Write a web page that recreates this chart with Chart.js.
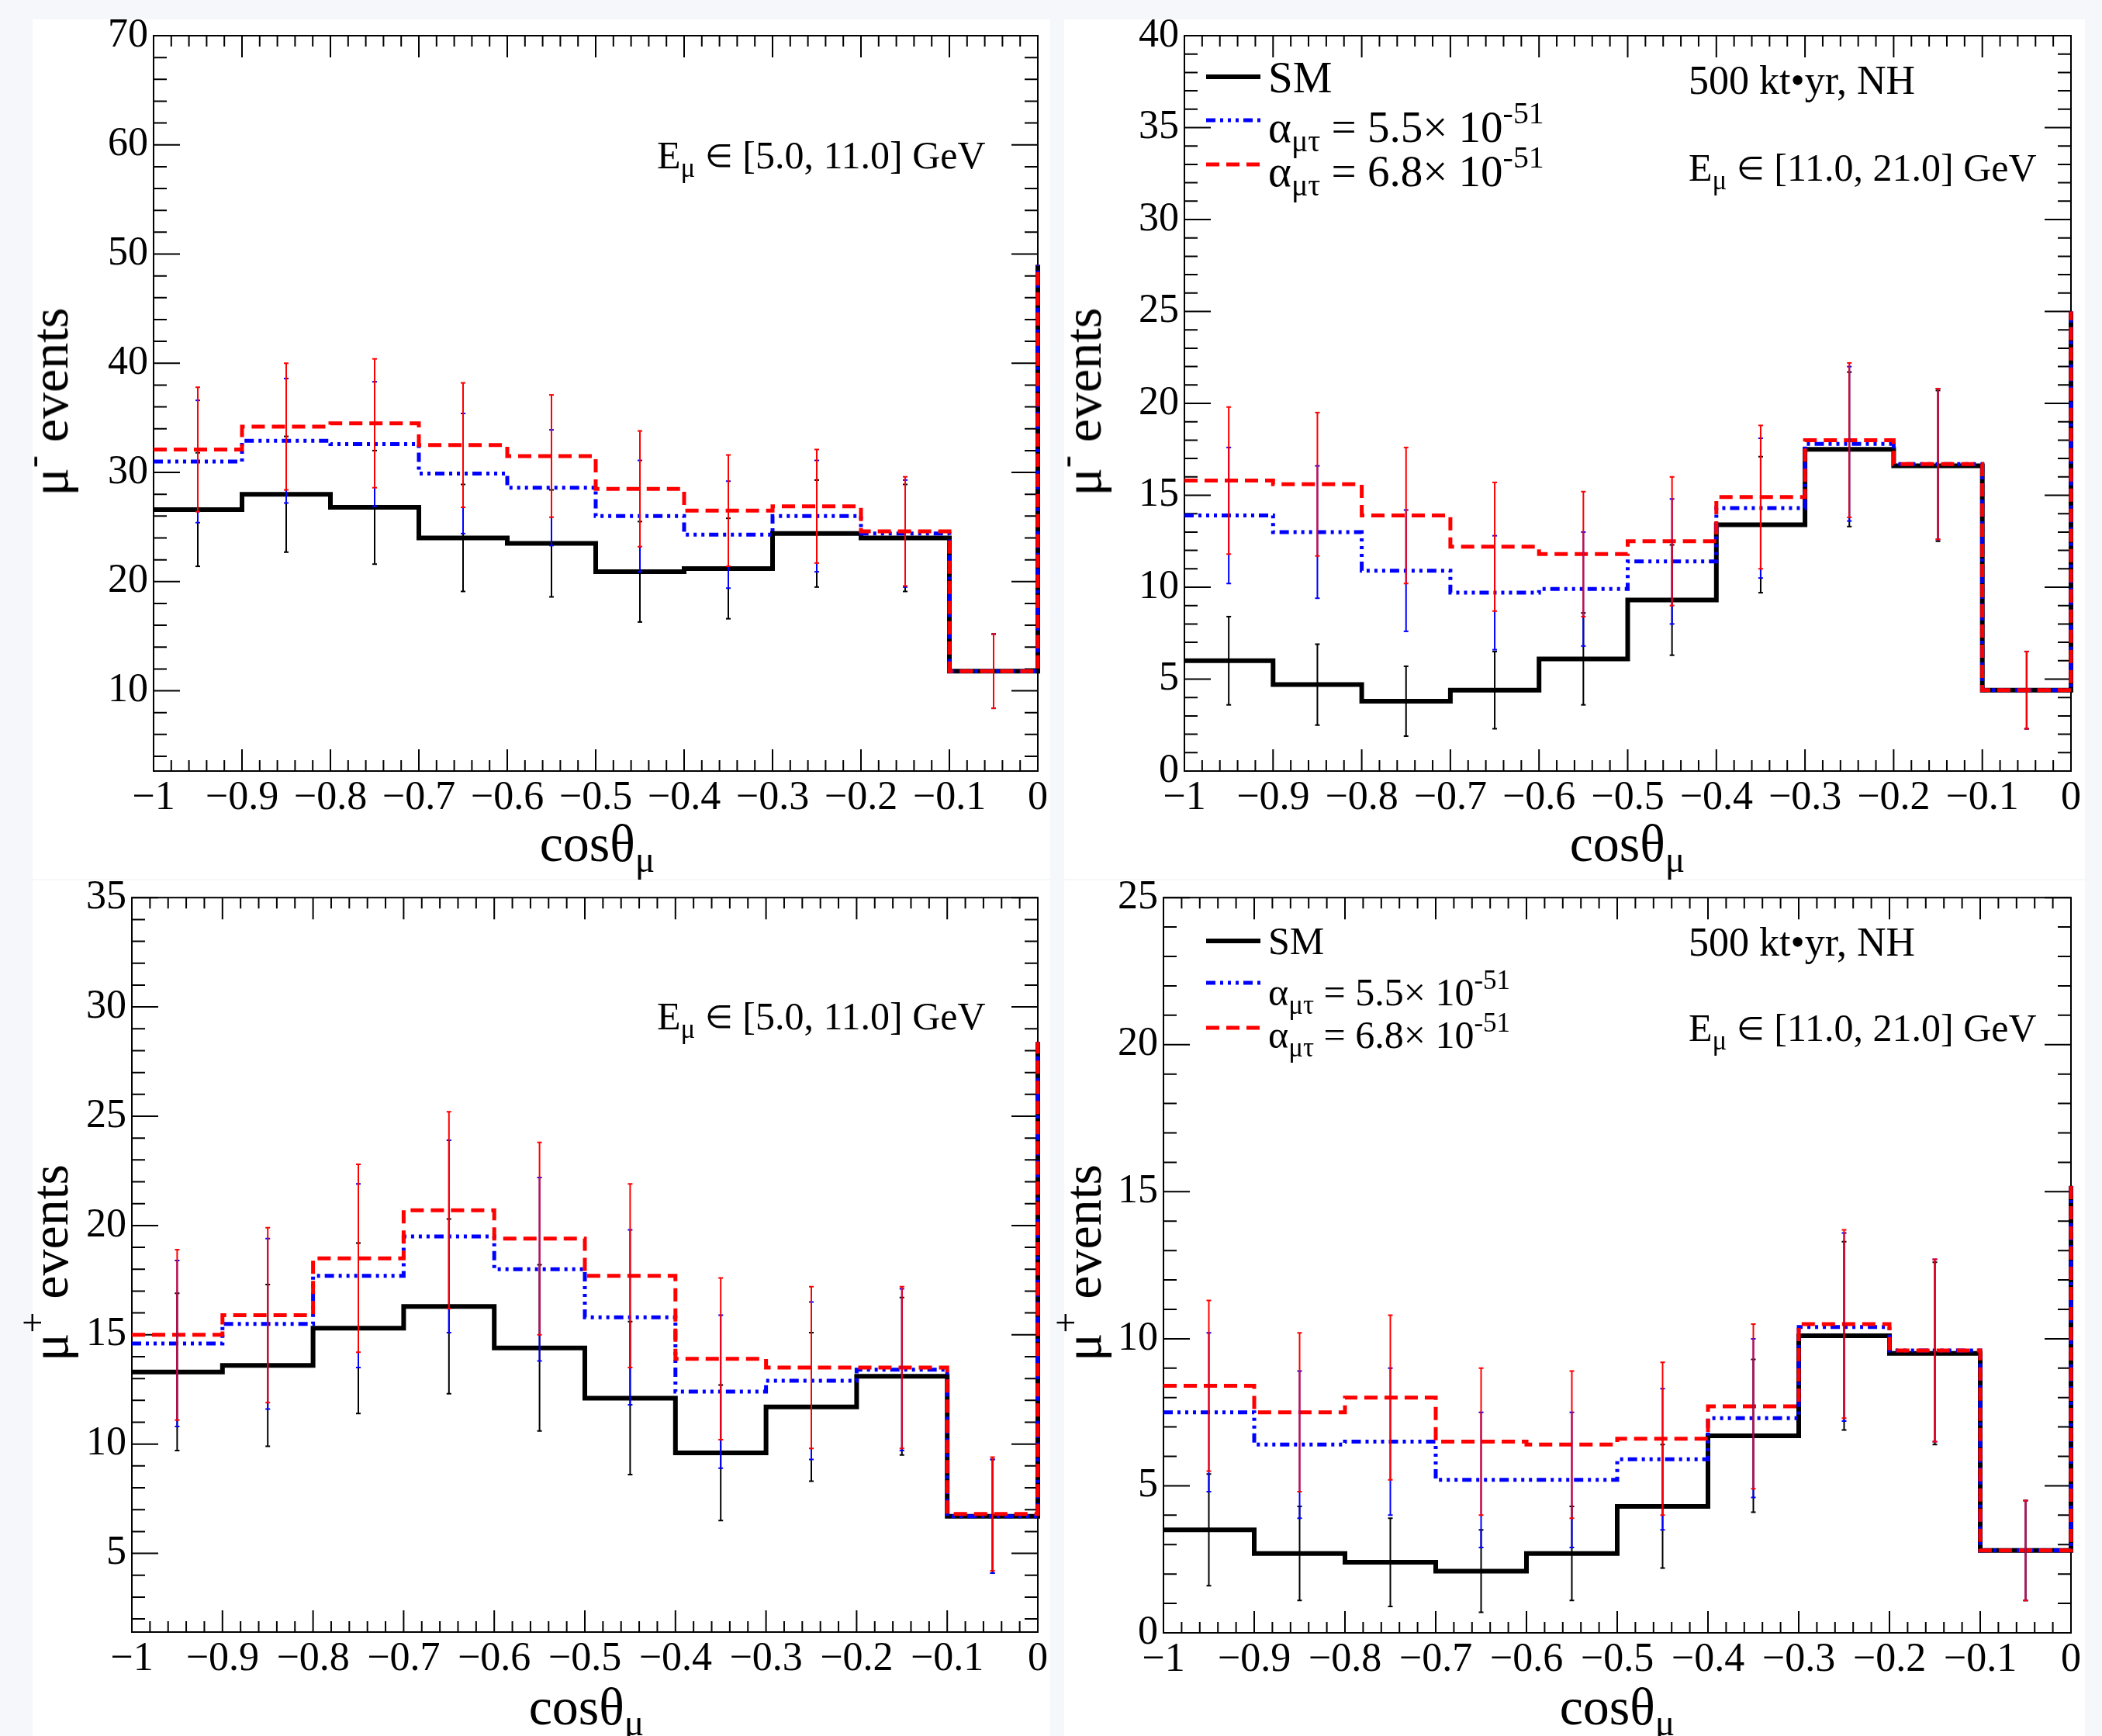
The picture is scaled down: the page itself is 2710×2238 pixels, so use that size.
<!DOCTYPE html>
<html>
<head>
<meta charset="utf-8">
<script src="https://cdn.jsdelivr.net/npm/chart.js@4.4.1/dist/chart.umd.min.js"></script>
<style>
  html, body { margin: 0; padding: 0; background: #f6f7fb; }
  #page { position: relative; width: 2710px; height: 2238px; overflow: hidden;
          font-family: 'Liberation Serif', 'Times New Roman', serif; color: #000; }
  .pane { position: absolute; background: #fff; }
  canvas { position: absolute; }
  .txt { position: absolute; line-height: 1; white-space: nowrap; }
  .sub { font-size: 0.7em; position: relative; top: 0.3em; }
  .sup { font-size: 0.7em; position: relative; top: -0.6em; }
  .in { font-size: 0.82em; position: relative; top: -0.04em; }
  .xt { position: absolute; line-height: 1; white-space: nowrap; font-size: 68px; transform: translateX(-50%); }
  .yt { position: absolute; line-height: 1; white-space: nowrap; font-size: 68px; transform: translate(-50%, -50%) rotate(-90deg); }
  .lg { position: absolute; }
</style>
</head>
<body>
<div id="page">
  <div class="pane" style="left:42px;top:25px;width:1312px;height:1108px"></div>
  <div class="pane" style="left:1372px;top:25px;width:1316px;height:1108px"></div>
  <div class="pane" style="left:42px;top:1135px;width:1312px;height:1103px"></div>
  <div class="pane" style="left:1372px;top:1135px;width:1316px;height:1103px"></div>

  <canvas id="cTL" width="1355" height="1119" style="left:0;top:0"></canvas>
  <canvas id="cTR" width="1355" height="1119" style="left:1355px;top:0"></canvas>
  <canvas id="cBL" width="1355" height="1119" style="left:0;top:1119px"></canvas>
  <canvas id="cBR" width="1355" height="1119" style="left:1355px;top:1119px"></canvas>

  <!-- axis titles -->
  <div class="yt" style="left:64px;top:518px">μ<span class="sup">-</span> events</div>
  <div class="yt" style="left:1396px;top:518px">μ<span class="sup">-</span> events</div>
  <div class="yt" style="left:64px;top:1628px">μ<span class="sup">+</span> events</div>
  <div class="yt" style="left:1396px;top:1628px">μ<span class="sup">+</span> events</div>
  <div class="xt" style="left:770px;top:1053px">cosθ<span class="sub">μ</span></div>
  <div class="xt" style="left:2098px;top:1053px">cosθ<span class="sub">μ</span></div>
  <div class="xt" style="left:756px;top:2166px">cosθ<span class="sub">μ</span></div>
  <div class="xt" style="left:2085px;top:2166px">cosθ<span class="sub">μ</span></div>

  <!-- energy / exposure labels -->
  <div class="txt" style="left:847px;top:175px;font-size:50px">E<span class="sub">μ</span> <span class="in">∈</span> [5.0, 11.0] GeV</div>
  <div class="txt" style="left:847px;top:1285px;font-size:50px">E<span class="sub">μ</span> <span class="in">∈</span> [5.0, 11.0] GeV</div>
  <div class="txt" style="left:2177px;top:78px;font-size:52px">500 kt•yr, NH</div>
  <div class="txt" style="left:2177px;top:191px;font-size:50px">E<span class="sub">μ</span> <span class="in">∈</span> [11.0, 21.0] GeV</div>
  <div class="txt" style="left:2177px;top:1189px;font-size:52px">500 kt•yr, NH</div>
  <div class="txt" style="left:2177px;top:1300px;font-size:50px">E<span class="sub">μ</span> <span class="in">∈</span> [11.0, 21.0] GeV</div>

  <!-- legend, top right -->
  <svg class="lg" style="left:1555px;top:93px" width="70" height="12"><line x1="0" y1="6" x2="70" y2="6" stroke="#000" stroke-width="6"/></svg>
  <svg class="lg" style="left:1555px;top:149px" width="70" height="12"><line x1="0" y1="6" x2="70" y2="6" stroke="#0000ff" stroke-width="5" stroke-dasharray="12 6 4 6 4 6 4 6"/></svg>
  <svg class="lg" style="left:1555px;top:206px" width="70" height="12"><line x1="0" y1="6" x2="70" y2="6" stroke="#ff0000" stroke-width="5" stroke-dasharray="17 9"/></svg>
  <div class="txt" style="left:1635px;top:71px;font-size:57px">SM</div>
  <div class="txt" style="left:1635px;top:135px;font-size:57px">α<span class="sub">μτ</span> = 5.5× 10<span class="sup">-51</span></div>
  <div class="txt" style="left:1635px;top:192px;font-size:57px">α<span class="sub">μτ</span> = 6.8× 10<span class="sup">-51</span></div>

  <!-- legend, bottom right -->
  <svg class="lg" style="left:1555px;top:1207px" width="70" height="12"><line x1="0" y1="6" x2="70" y2="6" stroke="#000" stroke-width="6"/></svg>
  <svg class="lg" style="left:1555px;top:1261px" width="70" height="12"><line x1="0" y1="6" x2="70" y2="6" stroke="#0000ff" stroke-width="5" stroke-dasharray="12 6 4 6 4 6 4 6"/></svg>
  <svg class="lg" style="left:1555px;top:1319px" width="70" height="12"><line x1="0" y1="6" x2="70" y2="6" stroke="#ff0000" stroke-width="5" stroke-dasharray="17 9"/></svg>
  <div class="txt" style="left:1635px;top:1188px;font-size:50px">SM</div>
  <div class="txt" style="left:1635px;top:1254px;font-size:50px">α<span class="sub">μτ</span> = 5.5× 10<span class="sup">-51</span></div>
  <div class="txt" style="left:1635px;top:1309px;font-size:50px">α<span class="sub">μτ</span> = 6.8× 10<span class="sup">-51</span></div>
</div>

<script>
// bins in cos(theta_mu)
const binEdges = [-1, -0.9, -0.8, -0.7, -0.6, -0.5, -0.4, -0.3, -0.2, -0.1, 0];
const binCenters = [-0.95, -0.85, -0.75, -0.65, -0.55, -0.45, -0.35, -0.25, -0.15, -0.05];
const xTicks = [-1, -0.9, -0.8, -0.7, -0.6, -0.5, -0.4, -0.3, -0.2, -0.1, 0];

// mu- , E in [5, 11] GeV
const tlSM = [26.6, 28.0, 26.8, 24.0, 23.5, 20.9, 21.2, 24.4, 24.0, 11.8];
const tlA55 = [31.0, 32.9, 32.6, 29.9, 28.6, 26.0, 24.3, 26.0, 24.4, 11.8];
const tlA68 = [32.1, 34.2, 34.5, 32.5, 31.5, 28.5, 26.5, 26.9, 24.6, 11.8];
const tlErrSM = [5.2, 5.3, 5.2, 4.9, 4.9, 4.6, 4.6, 4.9, 4.9, 3.4];
const tlErrA55 = [5.6, 5.7, 5.7, 5.5, 5.3, 5.1, 4.9, 5.1, 4.9, 3.4];
const tlErrA68 = [5.7, 5.8, 5.9, 5.7, 5.6, 5.3, 5.1, 5.2, 5.0, 3.4];
const tlOverflow = 49.0;
const tlYTicks = [10, 20, 30, 40, 50, 60, 70];

// mu- , E in [11, 21] GeV
const trSM = [6.0, 4.7, 3.8, 4.4, 6.1, 9.3, 13.4, 17.5, 16.6, 4.4];
const trA55 = [13.9, 13.0, 10.9, 9.7, 9.9, 11.4, 14.3, 17.8, 16.7, 4.4];
const trA68 = [15.8, 15.6, 13.9, 12.2, 11.8, 12.5, 14.9, 18.0, 16.7, 4.4];
const trErrSM = [2.4, 2.2, 1.9, 2.1, 2.5, 3.0, 3.7, 4.2, 4.1, 2.1];
const trErrA55 = [3.7, 3.6, 3.3, 3.1, 3.1, 3.4, 3.8, 4.2, 4.1, 2.1];
const trErrA68 = [4.0, 3.9, 3.7, 3.5, 3.4, 3.5, 3.9, 4.2, 4.1, 2.1];
const trOverflow = 25.0;
const trYTicks = [0, 5, 10, 15, 20, 25, 30, 35, 40];

// mu+ , E in [5, 11] GeV
const blSM = [13.3, 13.6, 15.3, 16.3, 14.4, 12.1, 9.6, 11.7, 13.1, 6.7];
const blA55 = [14.6, 15.5, 17.7, 19.5, 18.0, 15.8, 12.4, 12.9, 13.4, 6.7];
const blA68 = [15.0, 15.9, 18.5, 20.7, 19.4, 17.7, 13.9, 13.5, 13.5, 6.8];
const blErrSM = [3.6, 3.7, 3.9, 4.0, 3.8, 3.5, 3.1, 3.4, 3.6, 2.6];
const blErrA55 = [3.8, 3.9, 4.2, 4.4, 4.2, 4.0, 3.5, 3.6, 3.7, 2.6];
const blErrA68 = [3.9, 4.0, 4.3, 4.5, 4.4, 4.2, 3.7, 3.7, 3.7, 2.6];
const blOverflow = 28.4;
const blYTicks = [5, 10, 15, 20, 25, 30, 35];

// mu+ , E in [11, 21] GeV
const brSM = [3.5, 2.7, 2.4, 2.1, 2.7, 4.3, 6.7, 10.1, 9.5, 2.8];
const brA55 = [7.5, 6.4, 6.5, 5.2, 5.2, 5.9, 7.3, 10.4, 9.6, 2.8];
const brA68 = [8.4, 7.5, 8.0, 6.5, 6.4, 6.6, 7.7, 10.5, 9.6, 2.8];
const brErrSM = [1.9, 1.6, 1.5, 1.4, 1.6, 2.1, 2.6, 3.2, 3.1, 1.7];
const brErrA55 = [2.7, 2.5, 2.5, 2.3, 2.3, 2.4, 2.7, 3.2, 3.1, 1.7];
const brErrA68 = [2.9, 2.7, 2.8, 2.5, 2.5, 2.6, 2.8, 3.2, 3.1, 1.7];
const brOverflow = 15.2;
const brYTicks = [0, 5, 10, 15, 20, 25];

const colSM = '#000000';
const colA55 = '#0000ff';
const colA68 = '#ff0000';
const dashA55 = [12, 6, 4, 6, 4, 6, 4, 6];
const dashA68 = [17, 9];

Chart.defaults.font.family = "'Liberation Serif', 'Times New Roman', serif";
Chart.defaults.color = '#000';

// ROOT style frame: box plus inward ticks on all four sides
const rootFrame = {
    id: 'rootFrame',
    beforeDatasetsDraw(chart, args, opts) {
        const ctx = chart.ctx;
        const a = chart.chartArea;
        const x = chart.scales.x;
        const y = chart.scales.y;
        ctx.save();
        ctx.strokeStyle = '#000';
        ctx.lineWidth = 2;
        ctx.beginPath();
        const nx = Math.round((x.max - x.min) / opts.xMinor);
        for (let i = 0; i <= nx; i++) {
            const px = x.getPixelForValue(x.min + i * opts.xMinor);
            const len = i % opts.xPer === 0 ? 28 : 14;
            ctx.moveTo(px, a.bottom); ctx.lineTo(px, a.bottom - len);
            ctx.moveTo(px, a.top); ctx.lineTo(px, a.top + len);
        }
        let v = Math.ceil(y.min / opts.yMinor - 1e-6) * opts.yMinor;
        for (; v <= y.max + 1e-6; v += opts.yMinor) {
            const py = y.getPixelForValue(v);
            const r = v / opts.yMajor;
            const len = Math.abs(r - Math.round(r)) < 1e-6 ? 34 : 17;
            ctx.moveTo(a.left, py); ctx.lineTo(a.left + len, py);
            ctx.moveTo(a.right, py); ctx.lineTo(a.right - len, py);
        }
        ctx.stroke();
        ctx.strokeRect(a.left, a.top, a.right - a.left, a.bottom - a.top);
        ctx.restore();
    }
};

function histPoints(values, overflow) {
    return binEdges.map((x, i) => ({ x: x, y: i < values.length ? values[i] : overflow }));
}

function errPoints(values, errs) {
    const pts = [];
    binCenters.forEach((c, i) => {
        pts.push({ x: c, y: values[i] - errs[i] });
        pts.push({ x: c, y: values[i] + errs[i] });
        pts.push({ x: c, y: null });
    });
    return pts;
}

function histDataset(values, overflow, color, dash, width, order) {
    return {
        data: histPoints(values, overflow),
        stepped: 'before',
        borderColor: color,
        borderWidth: width,
        borderDash: dash,
        pointRadius: 0,
        fill: false,
        clip: false,
        order: order
    };
}

function errDataset(values, errs, color, order) {
    return {
        data: errPoints(values, errs),
        borderColor: color,
        borderWidth: 2,
        spanGaps: false,
        pointStyle: 'line',
        pointRadius: 3,
        pointHoverRadius: 3,
        pointBorderColor: color,
        pointBorderWidth: 2,
        fill: false,
        order: order
    };
}

function tickLabel(v) {
    return v === 0 ? '0' : '\u2212' + Math.abs(v);
}

function dibujarPanel(id, p) {
    const canvas = document.getElementById(id);
    const W = canvas.width, H = canvas.height;
    new Chart(canvas, {
        type: 'line',
        data: {
            datasets: [
                errDataset(p.a68, p.errA68, colA68, 1),
                errDataset(p.a55, p.errA55, colA55, 2),
                errDataset(p.sm, p.errSM, colSM, 3),
                histDataset(p.a68, p.over, colA68, dashA68, 5, 4),
                histDataset(p.a55, p.over, colA55, dashA55, 5, 5),
                histDataset(p.sm, p.over, colSM, [], 6, 6)
            ]
        },
        options: {
            responsive: false,
            animation: false,
            devicePixelRatio: 1,
            events: [],
            layout: { padding: { left: 0, right: W - p.area.right, top: p.area.top, bottom: 0 } },
            plugins: {
                legend: { display: false },
                tooltip: { enabled: false },
                rootFrame: { xMinor: 0.02, xPer: 5, yMinor: p.yMinor, yMajor: p.yMajor }
            },
            scales: {
                x: {
                    type: 'linear', min: -1, max: 0,
                    grid: { display: false, drawTicks: false },
                    border: { display: false },
                    afterBuildTicks: s => { s.ticks = xTicks.map(v => ({ value: v })); },
                    afterFit: s => { s.height = H - p.area.bottom; },
                    ticks: { autoSkip: false, maxRotation: 0, padding: 4, color: '#000',
                             font: { size: 52 }, callback: v => tickLabel(v) }
                },
                y: {
                    type: 'linear', min: p.yMin, max: p.yMax,
                    grid: { display: false, drawTicks: false },
                    border: { display: false },
                    afterBuildTicks: s => { s.ticks = p.yTicks.map(v => ({ value: v })); },
                    afterFit: s => { s.width = p.area.left; },
                    ticks: { padding: 7, color: '#000', font: { size: 52 }, callback: v => String(v) }
                }
            }
        },
        plugins: [rootFrame]
    });
}

dibujarPanel('cTL', {
    sm: tlSM, a55: tlA55, a68: tlA68, errSM: tlErrSM, errA55: tlErrA55, errA68: tlErrA68,
    over: tlOverflow, yMin: 2.65, yMax: 70, yTicks: tlYTicks, yMinor: 2, yMajor: 10,
    area: { left: 198, right: 1341, top: 46, bottom: 994 }
});
dibujarPanel('cTR', {
    sm: trSM, a55: trA55, a68: trA68, errSM: trErrSM, errA55: trErrA55, errA68: trErrA68,
    over: trOverflow, yMin: 0, yMax: 40, yTicks: trYTicks, yMinor: 1, yMajor: 5,
    area: { left: 172, right: 1315, top: 46, bottom: 994 }
});
dibujarPanel('cBL', {
    sm: blSM, a55: blA55, a68: blA68, errSM: blErrSM, errA55: blErrA55, errA68: blErrA68,
    over: blOverflow, yMin: 1.4, yMax: 35, yTicks: blYTicks, yMinor: 1, yMajor: 5,
    area: { left: 170, right: 1341, top: 35, bottom: 985 }
});
dibujarPanel('cBR', {
    sm: brSM, a55: brA55, a68: brA68, errSM: brErrSM, errA55: brErrA55, errA68: brErrA68,
    over: brOverflow, yMin: 0, yMax: 25, yTicks: brYTicks, yMinor: 1, yMajor: 5,
    area: { left: 145, right: 1315, top: 35, bottom: 986 }
});
</script>
</body>
</html>
